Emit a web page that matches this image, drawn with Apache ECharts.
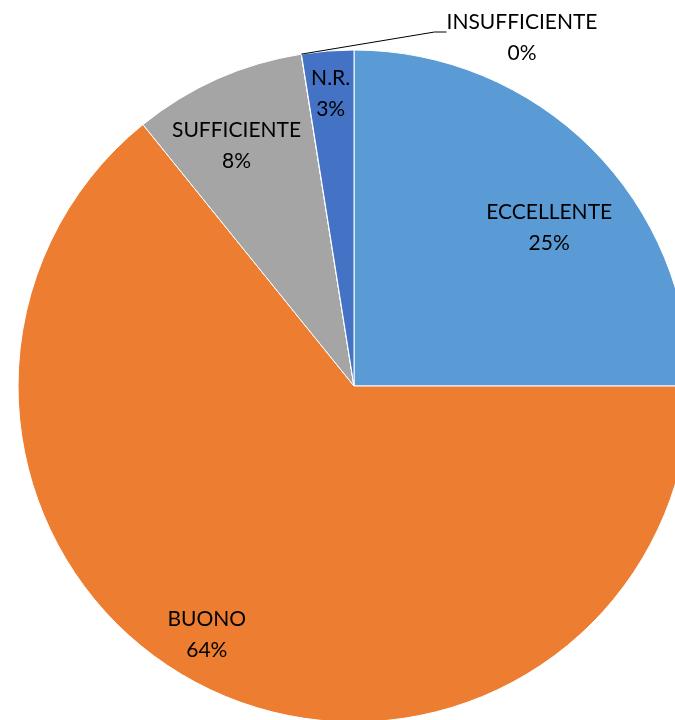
<!DOCTYPE html>
<html><head><meta charset="utf-8">
<script src="https://cdn.jsdelivr.net/npm/echarts@6/dist/echarts.min.js"></script>
<style>html,body{margin:0;padding:0;background:#fff}#c{width:675px;height:720px}</style>
</head><body><div id="c"></div>
<script>
const categories = ['ECCELLENTE', 'BUONO', 'SUFFICIENTE', 'INSUFFICIENTE', 'N.R.'];
const values = [25, 64.19, 8.3, 0.01, 2.5];
const colors = ['#5B9BD5', '#ED7D31', '#A5A5A5', '#FFC000', '#4472C4'];

const total = values.reduce((a, b) => a + b, 0);
const pct = v => Math.round(v / total * 100) + '%';
const fmt = p => p.name + '\n' + pct(p.value);
const fmtOut = p => '{s| }\n{t|' + p.name + '}\n{t|' + pct(p.value) + '}';
const R = 336;
const CENTER = [354, 386];
const textStyle = { fontFamily: 'Lato', fontSize: 21, color: '#000', lineHeight: 31 };
const nudge = { 0: [3, 34], 1: [-30, 3], 2: [-7, 8], 4: [-2, -21] };

const chart = echarts.init(document.getElementById('c'), null, { renderer: 'canvas' });
chart.setOption({
  animation: false,
  series: [
    {
      type: 'pie',
      center: CENTER,
      radius: R,
      startAngle: 90,
      clockwise: true,
      silent: true,
      itemStyle: { borderColor: '#fff', borderWidth: 1 },
      label: { show: false },
      labelLine: { show: false },
      data: categories.map((n, i) => ({
        name: n, value: values[i], itemStyle: { color: colors[i] },
        label: i === 3 ? Object.assign({
          show: true, position: 'outside', formatter: fmtOut, align: 'center',
          rich: { s: { fontSize: 6, lineHeight: 12 }, t: Object.assign({ align: 'center' }, textStyle) }
        }, textStyle) : { show: false },
        labelLine: i === 3 ? { show: true, showAbove: true, length: 10, length2: 12, smooth: false, lineStyle: { color: '#000', width: 1 } } : { show: false }
      })),
      labelLayout: p => p.dataIndex === 3 ? { x: 522, y: 32, align: 'center', verticalAlign: 'middle' } : {}
    },
    {
      type: 'pie',
      center: CENTER,
      radius: R * 1.6,
      startAngle: 90,
      clockwise: true,
      silent: true,
      z: 5,
      itemStyle: { color: 'rgba(0,0,0,0)', borderWidth: 0 },
      emphasis: { disabled: true },
      label: Object.assign({ show: true, position: 'inside', formatter: fmt, align: 'center' }, textStyle),
      labelLine: { show: false },
      data: categories.map((n, i) => ({
        name: n, value: values[i],
        label: i === 3 ? { show: false } : {}
      })),
      labelLayout: p => nudge[p.dataIndex] ? { dx: nudge[p.dataIndex][0], dy: nudge[p.dataIndex][1] } : {}
    }
  ]
});
</script></body></html>
